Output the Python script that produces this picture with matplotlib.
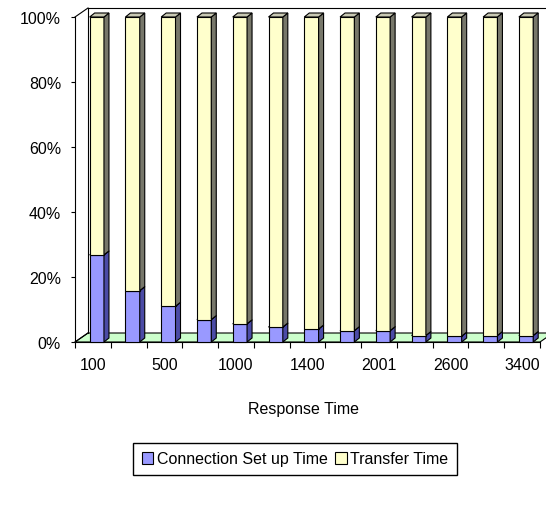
import numpy as np
import matplotlib
matplotlib.use("Agg")
import matplotlib.pyplot as plt
from matplotlib.patches import Polygon, Rectangle, Patch

plt.rcParams['font.family'] = ['Liberation Sans', 'DejaVu Sans']

# data (100% stacked, share of response time)
tick_labels = ["100", "", "500", "", "1000", "", "1400", "", "2001", "", "2600", "", "3400"]
conn_setup = [26.8, 15.8, 11.0, 6.9, 5.6, 4.6, 4.0, 3.5, 3.5, 2.0, 1.8, 2.0, 2.0]
transfer = [73.2, 84.2, 89.0, 93.1, 94.4, 95.4, 96.0, 96.5, 96.5, 98.0, 98.2, 98.0, 98.0]

W, H = 546, 506
fig = plt.figure(figsize=(W / 100, H / 100), dpi=100)
# plot area in pixels: x 75..540, y 18..343
ax = fig.add_axes([75 / W, (H - 343) / H, 465 / W, 325 / H])

n = len(conn_setup)
ax.set_xlim(-0.5, n - 0.5)
ax.set_ylim(0, 100)

# depth of the wall/floor and of a bar, in data units
wdx, wdy = 13 / 35.8, 9 / 3.25
bdx, bdy = 5 / 35.8, 4 / 3.25
bw = 0.40
shift = 0.11
fs = 11.5

blue = ('#9999ff', '#4b4ba6', '#7878d8')
yellow = ('#ffffcc', '#77776a', '#c9c9b4')

# floor
floor = Polygon([(-0.5, 0), (n - 0.5, 0), (n - 0.5 + wdx, wdy), (-0.5 + wdx, wdy)],
                closed=True, fc='#ccffcc', ec='black', lw=0.8, clip_on=False, zorder=1)
ax.add_patch(floor)
# back wall edges
ax.plot([-0.5, -0.5 + wdx], [100, 100 + wdy], color='black', lw=0.8, clip_on=False, zorder=1)
ax.plot([-0.5 + wdx, n + 1], [100 + wdy, 100 + wdy], color='black', lw=0.8, clip_on=False, zorder=1)
ax.plot([-0.5 + wdx, -0.5 + wdx], [wdy, 100 + wdy], color='black', lw=0.8, clip_on=False, zorder=1)
ax.plot([-0.5, -0.5 + wdx], [0, wdy], color='black', lw=0.8, clip_on=False, zorder=1)


def bar3d(x0, y0, y1, cols):
    front, side, top = cols
    ax.add_patch(Rectangle((x0, y0), bw, y1 - y0, fc=front, ec='black', lw=0.8,
                           clip_on=False, zorder=3))
    ax.add_patch(Polygon([(x0 + bw, y0), (x0 + bw + bdx, y0 + bdy), (x0 + bw + bdx, y1 + bdy),
                          (x0 + bw, y1)], closed=True, fc=side, ec='black', lw=0.8,
                         clip_on=False, zorder=3))
    ax.add_patch(Polygon([(x0, y1), (x0 + bw, y1), (x0 + bw + bdx, y1 + bdy), (x0 + bdx, y1 + bdy)],
                         closed=True, fc=top, ec='black', lw=0.8, clip_on=False, zorder=3))


for i in range(n):
    tot = conn_setup[i] + transfer[i]
    c = conn_setup[i] / tot * 100
    x0 = i - bw / 2 + shift
    bar3d(x0, 0, c, blue)
    bar3d(x0, c, 100, yellow)

for s in ['top', 'right']:
    ax.spines[s].set_visible(False)
ax.spines['left'].set_linewidth(0.8)
ax.spines['bottom'].set_linewidth(0.8)
ax.spines['bottom'].set_zorder(2)

ax.set_yticks(np.arange(0, 101, 20))
ax.set_yticklabels([f"{v}%" for v in range(0, 101, 20)])
ax.set_xticks(np.arange(n))
ax.set_xticklabels(tick_labels)
ax.set_xticks(np.arange(n + 1) - 0.5, minor=True)
ax.tick_params(axis='x', which='major', length=0, pad=11, labelsize=fs)
ax.tick_params(axis='x', which='minor', length=4, width=0.8)
ax.tick_params(axis='y', length=3, width=0.8, pad=7, labelsize=fs)

fig.text(303 / W, 1 - 410 / H, "Response Time", ha='center', va='center', fontsize=fs)

handles = [Patch(fc=blue[0], ec='black', lw=0.8), Patch(fc=yellow[0], ec='black', lw=0.8)]
fig.legend(handles, ["Connection Set up Time", "Transfer Time"], ncol=2,
           loc='center', bbox_to_anchor=(295 / W, 1 - 460 / H), frameon=True, fancybox=False,
           edgecolor='black', fontsize=fs, handlelength=0.7, handleheight=0.7,
           handletextpad=0.2, columnspacing=0.5, borderpad=0.55, framealpha=1)

fig.savefig("out.png", dpi=100)
